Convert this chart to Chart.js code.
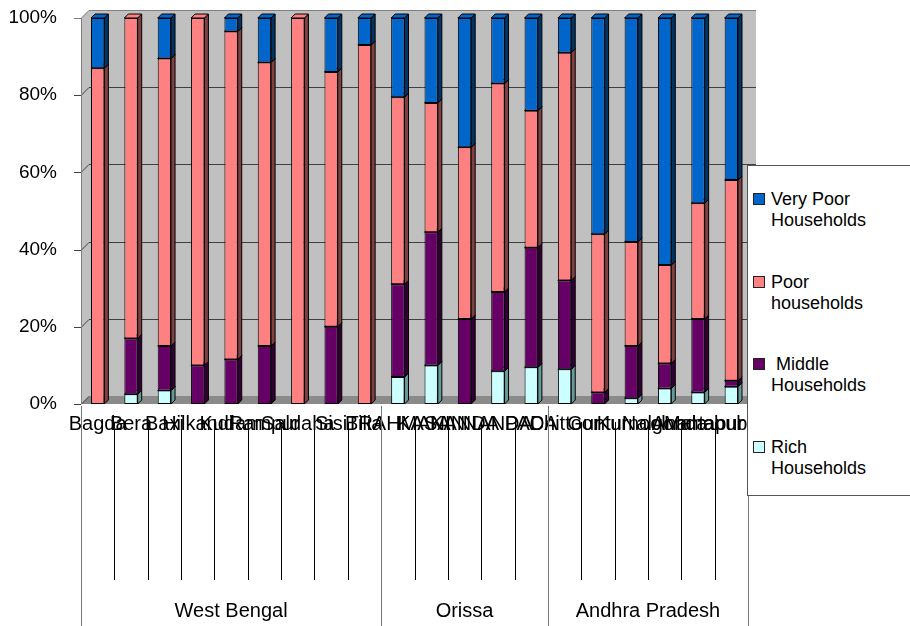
<!DOCTYPE html>
<html>
<head>
<meta charset="utf-8">
<script src="https://cdn.jsdelivr.net/npm/chart.js@4.4.0/dist/chart.umd.min.js"></script>
<style>
  body { margin: 0; background: #fff; font-family: 'Liberation Sans', Arial, sans-serif; }
  #wrap { position: relative; width: 910px; height: 626px; }
  #legend { position: absolute; left: 747px; top: 165px; width: 170px; height: 331px;
            border: 1px solid #555; box-sizing: border-box; background: #fff; }
  .item { position: absolute; left: 23px; font-size: 18px; line-height: 21px; color: #000; white-space: pre; }
  .sw { position: absolute; left: 5px; width: 10px; height: 10px; border: 1px solid #222; }
</style>
</head>
<body>
<div id="wrap">
  <canvas id="chart" width="910" height="626"></canvas>
  <div id="legend"></div>
</div>
<script>
const categories = [
  'Bagda', 'Bera', 'Baxi', 'Hilkandi', 'Kudam', 'Rampur', 'Saldaha', 'Sisi', 'Tilia',
  'BRAHMANI', 'KASAN', 'KANDA', 'NANDA', 'PADA',
  'Chittoor', 'Guntur', 'Kurnool', 'Nalgonda', 'Anantapur', 'Mahabubnagar'
];
const groupNames = ['West Bengal', 'Orissa', 'Andhra Pradesh'];
const groupSizes = [9, 5, 6];

const rich     = [0, 2.5, 3.5, 0, 0, 0, 0, 0, 0,   7, 10, 0, 8.5, 9.5,   9, 0, 1.5, 4, 3, 4.5];
const middle   = [0, 14.5, 11.5, 10, 11.5, 15, 0, 20, 0,   24, 34.5, 22, 20.5, 31,   23, 3, 13.5, 6.5, 19, 1.5];
const poor     = [87, 83, 74.5, 90, 85, 73.5, 100, 66, 93,   48.5, 33.5, 44.5, 54, 35.5,   59, 41, 27, 25.5, 30, 52];
const veryPoor = [13, 0, 10.5, 0, 3.5, 11.5, 0, 14, 7,   20.5, 22, 33.5, 17, 24,   9, 56, 58, 64, 48, 42];

const yTicks = [0, 20, 40, 60, 80, 100];

const seriesNames = ['Very Poor\nHouseholds', 'Poor\nhouseholds', ' Middle\nHouseholds', 'Rich\nHouseholds'];
const fillColors = ['#0066CC', '#FF8080', '#660066', '#CCFFFF'];
const sideColors = ['#003366', '#804040', '#330033', '#669999'];

const FONT = "'Liberation Sans', Arial, sans-serif";
const DEPTH = 8;

// grey walls, floor and the gridlines on the back wall
const wallPlugin = {
  id: 'walls',
  beforeDraw(chart) {
    const { ctx, chartArea: a } = chart;
    const d = DEPTH;
    ctx.save();
    ctx.fillStyle = '#C0C0C0';
    ctx.beginPath();
    ctx.moveTo(a.left, a.bottom);
    ctx.lineTo(a.left, a.top);
    ctx.lineTo(a.left + d, a.top - d);
    ctx.lineTo(a.right + d, a.top - d);
    ctx.lineTo(a.right + d, a.bottom - d);
    ctx.lineTo(a.right, a.bottom);
    ctx.closePath();
    ctx.fill();
    ctx.fillStyle = '#8a8a8a';
    ctx.beginPath();
    ctx.moveTo(a.left, a.bottom);
    ctx.lineTo(a.left + d, a.bottom - d);
    ctx.lineTo(a.right + d, a.bottom - d);
    ctx.lineTo(a.right, a.bottom);
    ctx.closePath();
    ctx.fill();

    const ys = chart.scales.y;
    ctx.lineWidth = 1;
    yTicks.forEach(v => {
      const py = Math.round(ys.getPixelForValue(v)) + 0.5;
      ctx.strokeStyle = v === 100 ? '#808080' : '#404040';
      ctx.beginPath();
      ctx.moveTo(a.left - 7, py);
      ctx.lineTo(a.left, py);
      ctx.lineTo(a.left + d, py - d);
      if (v > 0) ctx.lineTo(a.right + d, py - d);
      ctx.stroke();
    });
    ctx.strokeStyle = '#808080';
    ctx.beginPath();
    ctx.moveTo(a.left + 0.5, a.top);
    ctx.lineTo(a.left + 0.5, a.bottom);
    ctx.stroke();
    ctx.restore();
  }
};

// side and top faces so the bars look like the 3-D original
const depthPlugin = {
  id: 'depth',
  beforeDatasetsDraw(chart) {
    const ctx = chart.ctx;
    const d = 4;
    ctx.save();
    ctx.lineWidth = 1;
    ctx.strokeStyle = '#000';
    chart.data.datasets.forEach((ds, di) => {
      const meta = chart.getDatasetMeta(di);
      meta.data.forEach(bar => {
        const { x, y, base, width } = bar.getProps(['x', 'y', 'base', 'width'], true);
        if (Math.abs(base - y) < 0.5) return;
        const l = x - width / 2, r = x + width / 2;
        ctx.fillStyle = ds.sideColor;
        ctx.beginPath();
        ctx.moveTo(r, y);
        ctx.lineTo(r + d, y - d);
        ctx.lineTo(r + d, base - d);
        ctx.lineTo(r, base);
        ctx.closePath();
        ctx.fill();
        ctx.stroke();
        ctx.fillStyle = ds.backgroundColor;
        ctx.beginPath();
        ctx.moveTo(l, y);
        ctx.lineTo(l + d, y - d);
        ctx.lineTo(r + d, y - d);
        ctx.lineTo(r, y);
        ctx.closePath();
        ctx.fill();
        ctx.stroke();
      });
    });
    ctx.restore();
  }
};

// category separators and the second level of the axis (state names)
const groupAxisPlugin = {
  id: 'groupAxis',
  afterDraw(chart) {
    const { ctx, chartArea: a } = chart;
    const xs = chart.scales.x;
    ctx.save();
    ctx.lineWidth = 1;
    const boundaries = [];
    let acc = 0;
    groupSizes.forEach(n => { boundaries.push(acc); acc += n; });
    boundaries.push(acc);
    for (let i = 0; i <= categories.length; i++) {
      const px = Math.round(xs.getPixelForValue(i - 0.5)) + 0.5;
      const isGroup = boundaries.includes(i);
      ctx.strokeStyle = isGroup ? '#777' : '#000';
      ctx.beginPath();
      ctx.moveTo(px, isGroup ? a.bottom + 2 : a.bottom + 18);
      ctx.lineTo(px, isGroup ? 626 : 580);
      ctx.stroke();
    }
    ctx.fillStyle = '#000';
    ctx.font = '20px ' + FONT;
    ctx.textAlign = 'center';
    ctx.textBaseline = 'middle';
    groupNames.forEach((name, g) => {
      const x0 = xs.getPixelForValue(boundaries[g] - 0.5);
      const x1 = xs.getPixelForValue(boundaries[g + 1] - 0.5);
      ctx.fillText(name, (x0 + x1) / 2, 611);
    });
    ctx.restore();
  }
};

const datasets = [rich, middle, poor, veryPoor].map((values, i) => {
  const k = 3 - i;
  return {
    label: seriesNames[k],
    data: values,
    backgroundColor: fillColors[k],
    sideColor: sideColors[k],
    borderColor: '#000',
    borderWidth: 1,
    borderSkipped: false,
    barPercentage: 0.4,
    categoryPercentage: 1
  };
});

new Chart(document.getElementById('chart'), {
  type: 'bar',
  data: { labels: categories, datasets: datasets },
  plugins: [wallPlugin, depthPlugin, groupAxisPlugin],
  options: {
    responsive: false,
    animation: false,
    layout: { padding: { top: 18, right: 162, left: 0, bottom: 0 } },
    plugins: { legend: { display: false }, tooltip: { enabled: false } },
    scales: {
      x: {
        stacked: true,
        grid: { display: false },
        border: { display: false },
        ticks: {
          autoSkip: false, maxRotation: 0, minRotation: 0, padding: 0,
          color: '#000', font: { family: FONT, size: 20 }
        },
        afterFit(scale) { scale.height = 222; }
      },
      y: {
        stacked: true,
        min: 0, max: 100,
        grid: { display: false },
        border: { display: false },
        ticks: {
          stepSize: 20, padding: 16, color: '#000',
          font: { family: FONT, size: 19 },
          callback: v => v + '%'
        },
        afterFit(scale) {
          scale.width = 81;
          scale.paddingTop = 0;
          scale.paddingBottom = 0;
        }
      }
    }
  }
});

// legend, top to bottom in the same order as the original
const legend = document.getElementById('legend');
seriesNames.forEach((name, i) => {
  const top = 23 + i * 82.5;
  const sw = document.createElement('div');
  sw.className = 'sw';
  sw.style.top = (top + 4) + 'px';
  sw.style.background = fillColors[i];
  legend.appendChild(sw);
  const txt = document.createElement('div');
  txt.className = 'item';
  txt.style.top = top + 'px';
  txt.textContent = name;
  legend.appendChild(txt);
});
</script>
</body>
</html>
